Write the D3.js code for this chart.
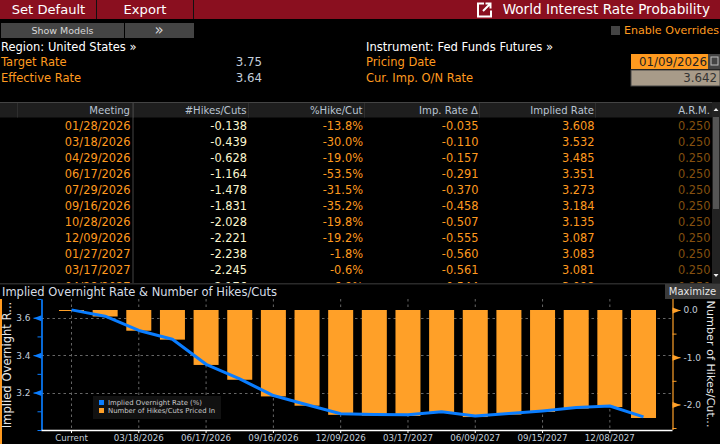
<!DOCTYPE html>
<html>
<head>
<meta charset="utf-8">
<script src="https://cdn.jsdelivr.net/npm/d3@7"></script>
<style>
  html, body { margin: 0; padding: 0; background: #000; }
  svg { display: block; }
  text { font-family: "DejaVu Sans", sans-serif; white-space: pre; }
</style>
</head>
<body>
<svg id="screen" width="720" height="444"></svg>
<script>
// table + chart values
var meetings = ["01/28/2026", "03/18/2026", "04/29/2026", "06/17/2026", "07/29/2026", "09/16/2026",
  "10/28/2026", "12/09/2026", "01/27/2027", "03/17/2027", "04/28/2027", "06/09/2027",
  "07/28/2027", "09/15/2027", "10/27/2027", "12/08/2027", "01/26/2028"];
var hikesCuts = [-0.138, -0.439, -0.628, -1.164, -1.478, -1.831, -2.028, -2.221, -2.238, -2.245,
  -2.176, -2.268, -2.216, -2.160, -2.088, -2.056, -2.288];
var pctHikeCut = [-13.8, -30.0, -19.0, -53.5, -31.5, -35.2, -19.8, -19.2, -1.8, -0.6, 6.9];
var impRateDelta = [-0.035, -0.110, -0.157, -0.291, -0.370, -0.458, -0.507, -0.555, -0.560, -0.561, -0.544];
var impliedRate = [3.608, 3.532, 3.485, 3.351, 3.273, 3.184, 3.135, 3.087, 3.083, 3.081,
  3.098, 3.075, 3.088, 3.102, 3.120, 3.128, 3.070];
var armValue = 0.250;
var currentRate = 3.642;
var currentLabel = "Current";

var xTickLabels = ["Current", "03/18/2026", "06/17/2026", "09/16/2026", "12/09/2026", "03/17/2027", "06/09/2027", "09/15/2027", "12/08/2027"];
var rateMajor = [3.6, 3.4, 3.2];
var rateMinor = [3.7, 3.5, 3.3, 3.1, 3.0];
var hikeMajor = [0, -1, -2];
var hikeMinor = [-0.5, -1.5, -2.5];

var columnHeads = ["Meeting", "#Hikes/Cuts", "%Hike/Cut", "Imp. Rate \u0394", "Implied Rate", "A.R.M."];
var columnRight = [130.5, 247, 363, 478.5, 594.5, 710.5];
var columnEdges = [17, 133, 248, 364, 479, 595];

var orange = "#ff9a1f", barOrange = "#ffa028", blue = "#0a7dff", pale = "#c3cedb";

var svg = d3.select("#screen");

function label(parent, str, x, y, size, fill, anchor) {
  return parent.append("text")
    .attr("x", x).attr("y", y)
    .attr("dy", "0.35em")
    .attr("font-size", size)
    .attr("fill", fill)
    .attr("text-anchor", anchor || "start")
    .text(str);
}
function box(parent, x, y, w, h, fill) {
  return parent.append("rect").attr("x", x).attr("y", y).attr("width", w).attr("height", h).attr("fill", fill);
}

// top red bar
box(svg, 0, 0, 720, 19, "#8a0f1f");
box(svg, 96, 0, 1, 19, "#111");
box(svg, 193, 0, 1, 19, "#111");
label(svg, "Set Default", 48.5, 9, 13.1, "#fff", "middle");
label(svg, "Export", 145, 9, 13.1, "#fff", "middle");
label(svg, "World Interest Rate Probability", 710, 9, 13.6, "#fff", "end");
svg.append("path")
  .attr("d", "M484 3.5H478V16.5H491V10.5M483 11L490 4M485.5 3.5H490.5V8.5")
  .attr("fill", "none").attr("stroke", "#fff").attr("stroke-width", 2);

// second row
box(svg, 1, 23, 123, 15, "#444");
box(svg, 125, 23, 69, 15, "#444");
label(svg, "Show Models", 62.5, 30.5, 9.5, "#d8d8d8", "middle");
label(svg, "\u00bb", 159, 29.5, 15, "#d8d8d8", "middle");
box(svg, 611, 26, 9, 9, "#444");
label(svg, "Enable Overrides", 719, 30.5, 11.1, orange, "end");

// summary block
label(svg, "Region: United States \u00bb", 1, 46.5, 11.5, "#fff");
label(svg, "Target Rate", 1, 62, 11.5, orange);
label(svg, "Effective Rate", 1, 77.5, 11.5, orange);
label(svg, "3.75", 262, 62, 11.8, pale, "end");
label(svg, "3.64", 262, 77.5, 11.8, pale, "end");
label(svg, "Instrument: Fed Funds Futures \u00bb", 366, 46.5, 11.6, "#fff");
label(svg, "Pricing Date", 366, 62, 11.5, orange);
label(svg, "Cur. Imp. O/N Rate", 366, 77.5, 11.5, orange);
box(svg, 631, 54, 77, 15, orange);
label(svg, "01/09/2026", 707, 61.5, 11.8, "#222", "end");
box(svg, 708, 54, 12, 15, "#444");
box(svg, 711, 57, 7, 8, "none").attr("stroke", "#bbb");
box(svg, 631, 70, 89, 16, "#a89b89").attr("stroke", "#444");
label(svg, "3.642", 717, 78, 11.8, "#333", "end");

// table
box(svg, 0, 102, 712, 1.5, "#444");
box(svg, 0, 103, 712, 14.5, "#1e1e1e");
columnEdges.forEach(function(x) { box(svg, x, 103, 1, 14.5, "#2e2e2e"); });
box(svg, 132.5, 103, 1, 180, "#444");
box(svg, 0, 283, 720, 1.5, "#2a2a2a");
columnHeads.forEach(function(h, i) {
  label(svg, h, columnRight[i] - 0.5, 110.5, 10.1, "#b9c4d2", "end");
});

svg.append("clipPath").attr("id", "tableClip")
  .append("rect").attr("x", 0).attr("y", 118).attr("width", 712).attr("height", 165);
var rowScale = d3.scaleLinear().domain([0, 10]).range([125.5, 286.5]);
var rowData = pctHikeCut.map(function(p, i) { return i; });
var rows = svg.append("g").attr("clip-path", "url(#tableClip)")
  .selectAll("g").data(rowData).join("g")
  .attr("transform", function(i) { return "translate(0," + rowScale(i) + ")"; });

var fmt3 = d3.format(".3f"), fmt1 = d3.format(".1f");
var cellDefs = [
  { get: function(i) { return meetings[i]; }, fill: orange },
  { get: function(i) { return fmt3(hikesCuts[i]).replace("\u2212", "-"); }, fill: "#fbf6cf" },
  { get: function(i) { return fmt1(pctHikeCut[i]).replace("\u2212", "-") + "%"; }, fill: orange },
  { get: function(i) { return fmt3(impRateDelta[i]).replace("\u2212", "-"); }, fill: orange },
  { get: function(i) { return fmt3(impliedRate[i]); }, fill: orange },
  { get: function() { return fmt3(armValue); }, fill: "#84500f" }
];
cellDefs.forEach(function(c, col) {
  rows.append("text")
    .attr("x", columnRight[col])
    .attr("dy", "0.35em")
    .attr("font-size", 11.4)
    .attr("text-anchor", "end")
    .attr("fill", c.fill)
    .text(function(i) { return c.get(i); });
});

// scrollbar
box(svg, 712, 102, 8, 181, "#222");
box(svg, 713, 117, 6, 92, "#555");
svg.append("path").attr("d", "M713.5 111L716 108L718.5 111Z M713.5 274L716 277L718.5 274Z").attr("fill", "#eee");

// chart panel
label(svg, "Implied Overnight Rate & Number of Hikes/Cuts", 2, 291.5, 11.5, "#d5dde6");
box(svg, 665, 284, 55, 15, "#3a3a3a");
label(svg, "Maximize", 692.5, 291.5, 10, "#e6e6e6", "middle");
box(svg, 0, 299, 2, 145, orange);

var plotLeft = 41.5, plotRight = 672.5, plotTop = 299, plotBottom = 430;
var categories = [currentLabel].concat(meetings);
var x = d3.scaleBand().domain(categories).range([59, 656]).paddingInner(0.257).paddingOuter(0);
var yRate = d3.scaleLinear().domain([3.0, 3.7]).range([430, 299]);
var yHike = d3.scaleLinear().domain([-2.5, 0]).range([428, 310]);

var xCenter = function(c) { return x(c) + x.bandwidth() / 2; };

// dashed grid
var grid = svg.append("g").attr("stroke", "#666").attr("stroke-dasharray", "2.5,3").attr("fill", "none");
grid.selectAll("line.h").data(rateMajor).join("line").attr("class", "h")
  .attr("x1", plotLeft).attr("x2", plotRight)
  .attr("y1", function(d) { return Math.round(yRate(d)) + 0.5; })
  .attr("y2", function(d) { return Math.round(yRate(d)) + 0.5; });
grid.selectAll("line.v").data(xTickLabels).join("line").attr("class", "v")
  .attr("y1", plotTop).attr("y2", plotBottom)
  .attr("x1", function(d) { return xCenter(d); })
  .attr("x2", function(d) { return xCenter(d); });

// bars: first one is Current at 0, drawn as a thin sliver
var barValues = [0].concat(hikesCuts);
svg.append("g").selectAll("rect").data(barValues).join("rect")
  .attr("x", function(d, i) { return x(categories[i]); })
  .attr("width", x.bandwidth())
  .attr("y", yHike(0))
  .attr("height", function(d) { return Math.max(yHike(d) - yHike(0), 1); })
  .attr("fill", barOrange);

// implied overnight rate line
var lineValues = [currentRate].concat(impliedRate);
var line = d3.line()
  .x(function(d, i) { return xCenter(categories[i]); })
  .y(function(d) { return yRate(d); });
svg.append("path").datum(lineValues)
  .attr("d", line)
  .attr("fill", "none").attr("stroke", blue).attr("stroke-width", 3).attr("stroke-linejoin", "round");

// axes
function styleAxis(g, color) {
  g.select(".domain").attr("stroke", color).attr("stroke-width", 1.2);
  g.selectAll("line").attr("stroke", color);
  g.selectAll("text").attr("font-size", 9).attr("fill", pale).attr("font-family", '"DejaVu Sans", sans-serif');
}
var leftAxis = svg.append("g").attr("transform", "translate(" + plotLeft + ",0)")
  .call(d3.axisLeft(yRate).tickValues(rateMajor).tickFormat(d3.format(".1f")).tickSize(8).tickSizeOuter(0));
styleAxis(leftAxis, blue);
leftAxis.selectAll(".tick").append("path").attr("d", "M-8 0L0 -3V3Z").attr("fill", blue);
var leftMinor = svg.append("g").attr("transform", "translate(" + plotLeft + ",0)")
  .call(d3.axisLeft(yRate).tickValues(rateMinor).tickFormat("").tickSize(4).tickSizeOuter(0));
styleAxis(leftMinor, blue);

var rightAxis = svg.append("g").attr("transform", "translate(" + plotRight + ",0)")
  .call(d3.axisRight(yHike).tickValues(hikeMajor).tickFormat(function(d) { return d3.format(".1f")(d).replace("\u2212", "-"); }).tickSize(8).tickSizeOuter(0));
styleAxis(rightAxis, barOrange);
rightAxis.select(".domain").attr("d", "M0.5 299V430");
rightAxis.selectAll(".tick").append("path").attr("d", "M8 0L0 -3V3Z").attr("fill", barOrange);
var rightMinor = svg.append("g").attr("transform", "translate(" + plotRight + ",0)")
  .call(d3.axisRight(yHike).tickValues(hikeMinor).tickFormat("").tickSize(4).tickSizeOuter(0));
styleAxis(rightMinor, barOrange);
rightMinor.select(".domain").remove();

var bottomAxis = svg.append("g").attr("transform", "translate(0," + plotBottom + ")")
  .call(d3.axisBottom(x).tickValues(xTickLabels).tickSize(3).tickSizeOuter(0).tickPadding(2));
styleAxis(bottomAxis, "#fff");
bottomAxis.selectAll("text").attr("font-size", 8.7);
bottomAxis.select(".domain").attr("d", "M" + plotLeft + " 0.5H" + plotRight).attr("stroke-width", 1.5);

// axis titles
label(svg, "Implied Overnight R...", 0, 0, 11.6, "#e8e8e8", "middle").attr("transform", "translate(7,365) rotate(-90)");
label(svg, "Number of Hikes/Cut...", 0, 0, 11.2, "#e8e8e8", "middle").attr("transform", "translate(711,364) rotate(90)");

// legend
box(svg, 93, 396, 128, 23, "#111");
box(svg, 99, 400, 5, 5, blue);
box(svg, 99, 408, 5, 5, barOrange);
label(svg, "Implied Overnight Rate (%)", 108, 402.5, 6.9, "#c9c9c9");
label(svg, "Number of Hikes/Cuts Priced In", 108, 410.5, 6.9, "#c9c9c9");
</script>
</body>
</html>
